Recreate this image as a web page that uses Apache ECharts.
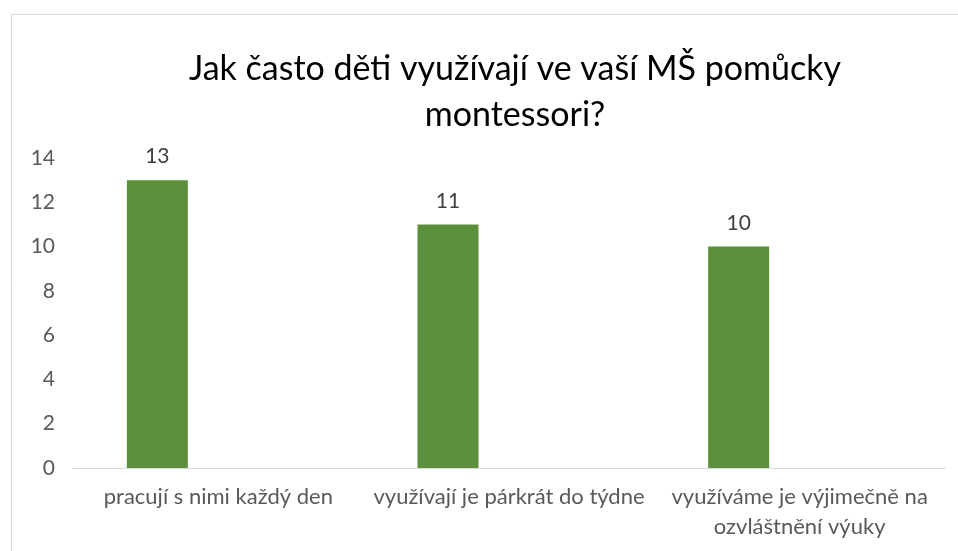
<!DOCTYPE html>
<html><head><meta charset="utf-8">
<script src="https://cdn.jsdelivr.net/npm/echarts@6/dist/echarts.min.js"></script>
<style>html,body{margin:0;padding:0;background:#fff}#c{width:958px;height:551px}</style>
</head><body><div id="c"></div>
<script>
const titleText = 'Jak často děti využívají ve vaší MŠ pomůcky\nmontessori?';
const categories = ['pracují s nimi každý den', 'využívají je párkrát do týdne', 'využíváme je výjimečně na\nozvláštnění výuky'];
const values = [13, 11, 10];
const emptySeries = [null, null, null];
const yMin = 0, yMax = 14, yInterval = 2;

const chart = echarts.init(document.getElementById('c'));
const font = 'Lato, "Open Sans", sans-serif';
chart.setOption({
  animation: false,
  graphic: [{type: 'rect', left: 9, top: 12, shape: {width: 1000, height: 600}, style: {fill: 'none', stroke: '#d9d9d9', lineWidth: 1}}],
  title: {text: titleText, left: 510, textAlign: 'center', top: 41,
    textStyle: {fontFamily: font, fontSize: 34, fontWeight: 'normal', color: '#000', lineHeight: 46}},
  grid: {left: 73, right: 13, top: 158, bottom: 83},
  xAxis: {type: 'category', data: categories,
    axisLine: {lineStyle: {color: '#d9d9d9', width: 1}}, axisTick: {show: false},
    axisLabel: {interval: 0, margin: 14, color: '#595959', fontFamily: font, fontSize: 22, lineHeight: 30}},
  yAxis: {type: 'value', min: yMin, max: yMax, interval: yInterval,
    axisLine: {show: false}, axisTick: {show: false}, splitLine: {show: false},
    axisLabel: {color: '#595959', fontFamily: font, fontSize: 21, margin: 18}},
  series: [
    {type: 'bar', data: values, barWidth: 61, barGap: '100%',
     itemStyle: {color: '#5b8f3b'},
     label: {show: true, position: 'top', distance: 13, color: '#404040', fontFamily: font, fontSize: 21}},
    {type: 'bar', data: emptySeries, barWidth: 61}
  ]
});
</script></body></html>
